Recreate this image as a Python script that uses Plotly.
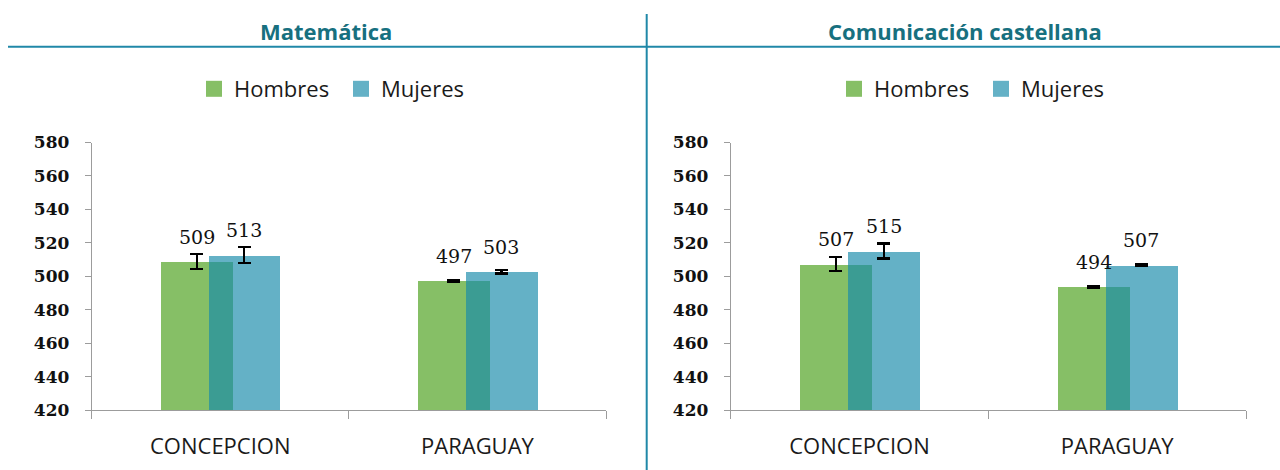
import plotly.graph_objects as go

# Puntajes promedio por género y errores estándar
categorias = ["CONCEPCION", "PARAGUAY"]
materias = ["Matemática", "Comunicación castellana"]

mat_hombres = [508.8, 497.3]
mat_mujeres = [512.6, 502.7]
mat_err_h = [4.5, 0.6]
mat_err_m = [4.7, 1.0]

com_hombres = [507.3, 493.7]
com_mujeres = [515.1, 506.6]
com_err_h = [4.0, 0.6]
com_err_m = [4.5, 0.7]

y_ticks = [420, 440, 460, 480, 500, 520, 540, 560, 580]

VERDE = "#86BF66"
AZUL = "#64B1C6"
SOLAPE = "#3B9C93"
TEAL = "#17707F"
LINEA = "#2088A8"
GRIS = "#9C9C9C"

ANCHO = 0.279
OFF_H = -0.231
OFF_M = -0.046

fig = go.Figure()

paneles = [
    (mat_hombres, mat_mujeres, mat_err_h, mat_err_m, "x", "y", "legend"),
    (com_hombres, com_mujeres, com_err_h, com_err_m, "x2", "y2", "legend2"),
]

xs = list(range(len(categorias)))

for h, m, eh, em, xa, ya, leg in paneles:
    fig.add_trace(go.Bar(
        x=xs, y=h, width=ANCHO, offset=OFF_H, base=0,
        marker=dict(color=VERDE, line=dict(width=0)),
        error_y=dict(type="data", array=eh, color="black", thickness=2.2, width=6.5),
        xaxis=xa, yaxis=ya, showlegend=False, hoverinfo="y",
    ))
    fig.add_trace(go.Bar(
        x=xs, y=m, width=ANCHO, offset=OFF_M, base=0,
        marker=dict(color=AZUL, line=dict(width=0)),
        error_y=dict(type="data", array=em, color="black", thickness=2.2, width=6.5),
        xaxis=xa, yaxis=ya, showlegend=False, hoverinfo="y",
    ))
    # zona donde se superponen las barras
    solape = [min(a, b) for a, b in zip(h, m)]
    fig.add_trace(go.Bar(
        x=xs, y=solape, width=OFF_H + ANCHO - OFF_M, offset=OFF_M, base=0,
        marker=dict(color=SOLAPE, line=dict(width=0)),
        xaxis=xa, yaxis=ya, showlegend=False, hoverinfo="skip",
    ))
    # entradas de leyenda
    for nombre, col in [("Hombres", VERDE), ("Mujeres", AZUL)]:
        fig.add_trace(go.Scatter(
            x=[None], y=[None], mode="markers", name=nombre,
            marker=dict(symbol="square", size=16, color=col),
            xaxis=xa, yaxis=ya, legend=leg,
        ))
    # etiquetas de datos
    for i in xs:
        for val, off in [(h[i], OFF_H), (m[i], OFF_M)]:
            fig.add_annotation(
                x=i + off + ANCHO / 2, y=val, xref=xa, yref=ya,
                text=f"{val:.0f}", showarrow=False, yanchor="bottom", yshift=12,
                font=dict(family="DejaVu Serif", size=19, color="#111111"),
            )

eje_x = dict(
    range=[-0.5, 1.5], tickmode="array", tickvals=xs, ticktext=categorias,
    ticks="", showline=True, linecolor=GRIS, linewidth=1, showgrid=False, zeroline=False,
    tickfont=dict(family="Open Sans", size=22, color="#1a1a1a"),
    minor=dict(tickmode="array", tickvals=[-0.5, 0.5, 1.5], ticks="outside", ticklen=8, tickcolor=GRIS),
    ticklabelstandoff=17, fixedrange=True, automargin=False,
)
eje_y = dict(
    range=[420, 580], tickmode="array", tickvals=y_ticks, ticks="outside", ticklen=6,
    tickcolor=GRIS, showline=True, linecolor=GRIS, linewidth=1, showgrid=False, zeroline=False,
    tickfont=dict(family="DejaVu Serif", size=17, color="#111111", weight="bold"),
    ticklabelstandoff=12, fixedrange=True, automargin=False,
)

ley = dict(orientation="h", xanchor="left", yanchor="middle", y=1 - 89 / 470,
           font=dict(family="Open Sans", size=22, color="#1a1a1a"),
           entrywidth=102, bgcolor="rgba(0,0,0,0)")

ydom = [60 / 470, 327.5 / 470]
fig.update_layout(
    width=1280, height=470,
    margin=dict(l=0, r=0, t=0, b=0, autoexpand=False),
    plot_bgcolor="white", paper_bgcolor="white",
    barmode="overlay", bargap=0,
    xaxis=dict(eje_x, domain=[91.7 / 1280, 606 / 1280]),
    xaxis2=dict(eje_x, domain=[730.7 / 1280, 1246 / 1280]),
    yaxis=dict(eje_y, domain=ydom, anchor="x"),
    yaxis2=dict(eje_y, domain=ydom, anchor="x2"),
    legend=dict(ley, x=194 / 1280),
    legend2=dict(ley, x=834 / 1280),
    showlegend=True,
)

# títulos de cada panel
for nombre, xc in zip(materias, [326, 965]):
    fig.add_annotation(
        x=xc / 1280, y=1 - 31 / 470, xref="paper", yref="paper", showarrow=False,
        text=f"<b>{nombre}</b>", font=dict(family="Open Sans", size=22, color=TEAL),
        xanchor="center", yanchor="middle",
    )

# líneas separadoras
fig.add_shape(type="line", xref="paper", yref="paper", x0=8 / 1280, x1=1,
              y0=1 - 46.7 / 470, y1=1 - 46.7 / 470, line=dict(color=LINEA, width=2))
fig.add_shape(type="line", xref="paper", yref="paper", x0=646.7 / 1280, x1=646.7 / 1280,
              y0=0, y1=1 - 14 / 470, line=dict(color=LINEA, width=2))

fig.write_html("out.html", config={"displayModeBar": False},
               post_script="document.body.style.margin='0';document.body.style.overflow='hidden';")
